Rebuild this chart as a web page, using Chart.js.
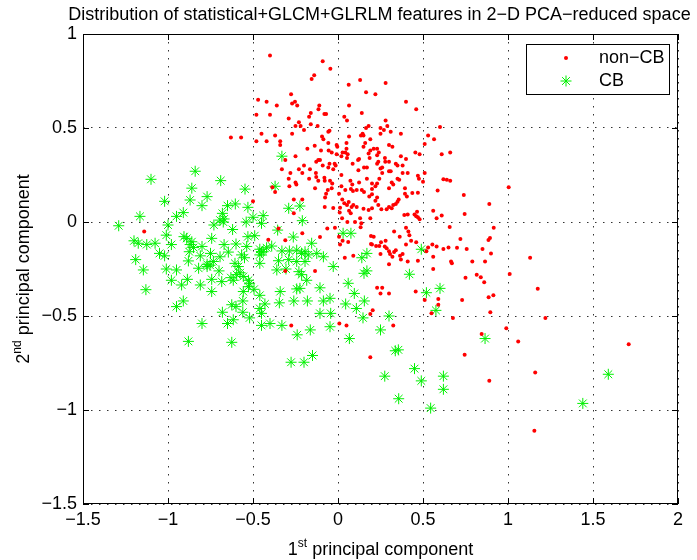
<!DOCTYPE html>
<html>
<head>
<meta charset="utf-8">
<script src="https://cdn.jsdelivr.net/npm/chart.js@4.4.1/dist/chart.umd.min.js"></script>
<style>
  html, body { margin: 0; padding: 0; background: #fff; }
</style>
</head>
<body>
<canvas id="pcaChart" width="697" height="560"></canvas>
<script>
// labels
const chartTitle = 'Distribution of statistical+GLCM+GLRLM features in 2\u2212D PCA\u2212reduced space';
const seriesNames = ['non\u2212CB', 'CB'];

// non-CB points [pc1, pc2]
const nonCbPoints = [
  [-0.40,0.885],[-0.276,0.68],[-0.253,0.64],[-0.27,0.63],[-0.24,0.62],[-0.47,0.65],[-0.42,0.64],[-0.36,0.62],
  [-0.48,0.57],[-0.40,0.57],[-0.29,0.55],[-0.23,0.53],[-0.25,0.51],[-0.63,0.45],[-0.57,0.45],[-0.45,0.47],
  [-0.37,0.46],[-0.27,0.47],[-0.48,0.43],[-0.42,0.43],[-0.34,0.43],[-0.34,0.41],[-0.31,0.33],[-0.25,0.35],
  [-0.33,0.28],[-0.28,0.26],[-0.23,0.28],
  [-0.09,0.855],[-0.045,0.815],[-0.14,0.78],[-0.155,0.76],[0.13,0.755],[0.28,0.74],[0.063,0.73],[0.165,0.69],
  [0.22,0.68],[0.40,0.64],[0.46,0.60],[0.065,0.62],[-0.11,0.62],[-0.115,0.60],[-0.16,0.58],[-0.08,0.575],
  [-0.07,0.575],[0.14,0.58],[-0.17,0.56],[0.037,0.56],[0.053,0.54],[0.28,0.54],[0.18,0.51],[0.165,0.50],
  [-0.22,0.51],[-0.16,0.52],[-0.12,0.51],[-0.20,0.49],[-0.05,0.485],[-0.057,0.48],[0.25,0.50],[0.29,0.51],
  [0.27,0.49],[0.25,0.47],[0.31,0.48],[0.37,0.47],[0.60,0.505],[0.53,0.46],[0.565,0.44],[0.61,0.36],
  [0.66,0.37],[0.51,0.415],[0.455,0.37],[0.48,0.36],[0.145,0.47],[0.15,0.46],[0.135,0.46],[0.065,0.455],
  [-0.094,0.455],[-0.086,0.44],[-0.18,0.39],[-0.137,0.405],[-0.057,0.42],[-0.008,0.41],[-0.004,0.40],[0.05,0.42],
  [0.15,0.40],[0.19,0.44],[0.16,0.42],[0.21,0.39],[0.23,0.39],[0.19,0.38],[0.24,0.37],[0.30,0.41],
  [0.32,0.40],[-0.10,0.38],[-0.055,0.38],[-0.037,0.37],[0.05,0.39],[0.043,0.37],[0.057,0.36],[0.027,0.37],
  [0.02,0.35],[-0.008,0.36],[0.18,0.365],[0.23,0.355],[-0.116,0.33],[-0.128,0.32],[-0.106,0.33],[-0.05,0.31],
  [-0.02,0.31],[0.053,0.34],[0.086,0.31],[0.118,0.33],[0.124,0.335],[0.186,0.34],[0.237,0.32],[0.276,0.34],
  [0.278,0.32],[0.30,0.32],[0.37,0.35],[0.40,0.335],[-0.20,0.30],[-0.165,0.28],[-0.09,0.30],[-0.057,0.29],
  [-0.028,0.28],[-0.014,0.30],[0.12,0.275],[0.153,0.29],[0.17,0.29],[0.23,0.31],[0.25,0.285],[0.26,0.29],
  [0.26,0.26],[0.30,0.27],[0.31,0.27],[0.34,0.31],[0.35,0.30],[0.38,0.30],[0.38,0.26],[0.41,0.26],
  [0.51,0.26],[-0.21,0.26],[-0.13,0.26],
  [-0.25,0.21],[-0.17,0.23],[-0.128,0.24],[-0.116,0.22],[-0.08,0.235],[-0.078,0.22],[-0.047,0.22],[-0.034,0.205],
  [-0.037,0.18],[-0.06,0.17],[-0.07,0.15],[-0.076,0.13],[-0.078,0.08],[-0.028,0.075],[-0.26,0.12],[-0.21,0.12],
  [-0.26,0.046],[-0.135,0.18],[0.02,0.25],[0.02,0.19],[0.043,0.17],[0.076,0.175],[0.084,0.20],[0.073,0.22],
  [0.124,0.21],[0.11,0.17],[0.088,0.165],[0.14,0.17],[0.153,0.16],[0.006,0.15],[0.025,0.12],[0.037,0.10],
  [0.012,0.076],[0.01,0.05],[0.053,0.09],[0.063,0.106],[0.065,0.06],[0.08,0.08],[0.09,0.09],[0.11,0.08],
  [0.075,0.046],[0.024,0.02],[0.055,0.0],[0.10,0.0],[0.137,-0.007],[0.13,0.02],[0.15,0.07],[0.18,0.064],
  [0.20,0.073],[0.19,0.02],[0.237,0.09],[0.22,0.113],[0.23,0.13],[0.20,0.147],[0.184,0.135],[0.20,0.175],
  [0.20,0.205],[0.22,0.19],[0.23,0.205],[0.243,0.23],[0.17,0.23],[0.255,0.068],[0.286,0.068],[0.30,0.08],
  [0.316,0.073],[0.325,0.09],[0.34,0.096],[0.35,0.108],[0.357,0.12],[0.30,0.18],[0.316,0.21],[0.325,0.20],
  [0.35,0.23],[0.36,0.225],[0.394,0.18],[0.394,0.15],[0.405,0.135],[0.437,0.154],[0.47,0.156],[0.476,0.23],
  [0.50,0.214],[0.47,0.246],[0.39,0.037],[0.41,0.04],[0.45,0.04],[0.46,0.03],[0.47,0.025],[0.48,0.014],
  [0.465,0.055],[0.56,0.06],[0.58,0.02],[0.61,0.034],[0.62,0.227],[0.64,0.225],[0.66,0.22],[0.586,0.167],
  [0.74,0.144],[0.745,0.043],[0.89,0.096],[0.657,-0.027],
  [-0.018,-0.03],[-0.063,-0.034],[-0.106,-0.08],[-0.21,-0.06],[-0.135,-0.26],[0.006,-0.078],[0.012,-0.12],[0.027,-0.10],
  [0.06,-0.106],[0.04,-0.19],[0.09,-0.18],[0.133,-0.028],[0.194,-0.074],[0.21,-0.078],[0.194,-0.117],[0.20,-0.12],
  [0.224,-0.128],[0.243,-0.128],[0.253,-0.108],[0.25,-0.17],[0.275,-0.13],[0.28,-0.10],[0.286,-0.14],[0.30,-0.155],
  [0.306,-0.17],[0.33,-0.16],[0.34,-0.15],[0.32,-0.185],[0.365,-0.18],[0.38,-0.17],[0.37,-0.20],[0.30,-0.225],
  [0.33,-0.05],[0.363,-0.078],[0.40,-0.03],[0.414,-0.05],[0.42,-0.07],[0.43,-0.10],[0.40,-0.12],[0.41,-0.21],
  [0.47,-0.206],[0.46,-0.108],[0.52,-0.155],[0.53,-0.136],[0.555,-0.12],[0.58,-0.13],[0.56,-0.185],[0.56,-0.25],
  [0.62,-0.144],[0.65,-0.135],[0.70,-0.137],[0.72,-0.09],[0.665,-0.21],[0.67,-0.22],[0.757,-0.144],[0.79,-0.21],
  [0.85,-0.144],[0.865,-0.21],[0.75,-0.296],[0.816,-0.28],[0.84,-0.294],[0.86,-0.32],[0.886,-0.40],[0.59,-0.41],
  [0.457,-0.37],[0.51,-0.415],[0.73,-0.415],[0.23,-0.35],[0.26,-0.35],[0.25,-0.38],[0.30,-0.38],
  [-0.29,0.23],[-0.286,0.19],[-0.245,0.20],[-0.386,0.185],[-0.37,0.16],[-0.50,0.11],[-0.35,-0.034],[-0.41,-0.094],
  [-0.31,-0.097],[-0.31,-0.26],[-1.14,-0.05],
  [1.004,0.185],[0.916,-0.03],[0.894,-0.085],[0.885,-0.096],[0.90,-0.167],[1.13,-0.19],[1.01,-0.277],[1.175,-0.355],
  [0.914,-0.39],
  [0.896,-0.48],[1.22,-0.51],[0.99,-0.565],[0.845,-0.596],[1.06,-0.635],[1.71,-0.65],[1.16,-0.80],[0.89,-0.845],
  [1.155,-1.11],
  [0.59,-0.44],[0.55,-0.486],[0.676,-0.51],[0.204,-0.47],[0.19,-0.49],[0.008,-0.54],[0.05,-0.55],[0.325,-0.55],
  [-0.275,-0.55],[0.745,-0.706],[0.19,-0.72]
];

// CB points [pc1, pc2]
const cbPoints = [
  [-0.33,0.35],[-0.84,0.27],[-1.10,0.227],
  [-0.69,0.22],[-0.86,0.18],[-0.547,0.175],[-0.37,0.19],[-0.77,0.135],[-0.87,0.117],[-1.02,0.11],[-0.80,0.087],
  [-0.65,0.087],[-0.604,0.096],[-0.53,0.078],[-0.29,0.073],[-0.91,0.05],[-0.95,0.03],[-1.165,0.03],[-0.68,0.046],
  [-0.67,0.016],[-0.675,0.0],[-0.73,-0.016],[-0.50,0.025],[-0.44,0.034],[-0.45,-0.007],[-0.54,0.0],[-0.62,-0.04],
  [-1.00,-0.016],[-1.29,-0.02],[-1.01,-0.07],[-0.906,-0.078],[-0.89,-0.087],[-0.743,-0.087],[-0.53,-0.078],[-0.49,-0.073],
  [-0.355,-0.043],[-0.263,-0.08],[-1.20,-0.10],[-1.175,-0.113],[-1.125,-0.12],[-1.076,-0.113],[-0.98,-0.12],[-0.87,-0.12],
  [-0.85,-0.136],[-0.80,-0.13],[-0.67,-0.12],[-0.60,-0.117],[-0.537,-0.13],[-0.46,-0.145],[-0.44,-0.158],[-0.39,-0.128],
  [-0.33,-0.154],[-0.286,-0.154],[-0.243,-0.15],[-0.875,-0.158],[-0.75,-0.167],[-0.645,-0.16],[-1.05,-0.167],[-1.02,-0.18],
  [-0.81,-0.18],[-0.694,-0.185],[-0.567,-0.175],[-0.55,-0.19],[-0.46,-0.175],[-0.29,-0.20],[-1.19,-0.20],[-0.88,-0.207],
  [-0.733,-0.21],[-0.77,-0.225],[-0.606,-0.22],[-0.46,-0.22],[-0.35,-0.206],[-1.145,-0.255],[-1.01,-0.25],[-0.95,-0.255],
  [-0.82,-0.246],[-0.77,-0.237],[-0.70,-0.26],[-0.586,-0.237],[-0.576,-0.27],[-0.23,-0.264],[-0.36,-0.255],[-0.306,-0.25],
  [-0.98,-0.31],[-0.886,-0.305],[-0.743,-0.305],[-0.684,-0.317],[-0.63,-0.296],[-0.616,-0.31],[-0.52,-0.326],[-0.527,-0.344],
  [-0.92,-0.335],[-0.81,-0.335],[-1.13,-0.36],[-0.743,-0.37],[-0.557,-0.37],[-0.494,-0.358],[-0.34,-0.37],[-0.243,-0.356],
  [-0.46,-0.39],[-0.42,-0.137],[-0.45,-0.16],[-0.86,-0.105],[-0.557,-0.29],[-0.527,-0.31],[-0.596,-0.28],[-0.694,0.01],
  [-0.753,-0.23],
  [-0.224,0.085],[-0.21,0.007],[-0.155,-0.113],[-0.194,-0.158],[-0.214,-0.167],[-0.175,-0.175],[-0.125,-0.167],[-0.086,-0.185],
  [-0.243,-0.21],[-0.194,-0.21],[-0.214,-0.28],[0.03,-0.06],[0.076,-0.06],[-0.028,-0.237],[0.14,-0.19],[0.17,-0.167],
  [0.17,-0.26],[0.153,-0.273],[0.49,-0.145],[0.42,-0.278],[0.06,-0.326],[0.096,-0.38],[-0.184,-0.31],[-0.224,-0.353],
  [-0.106,-0.35],[-0.047,-0.406],[0.52,-0.376],[0.60,-0.353],
  [-0.95,-0.45],[-0.91,-0.42],[-0.80,-0.54],[-0.88,-0.635],[-0.68,-0.48],[-0.625,-0.44],[-0.60,-0.45],[-0.56,-0.42],
  [-0.56,-0.48],[-0.616,-0.52],[-0.65,-0.54],[-0.625,-0.64],[-0.52,-0.51],[-0.46,-0.46],[-0.45,-0.486],[-0.43,-0.436],
  [-0.45,-0.55],[-0.40,-0.54],[-0.345,-0.43],[-0.33,-0.55],
  [-0.26,-0.42],[-0.18,-0.42],[-0.086,-0.42],[0.045,-0.436],[0.108,-0.46],[0.155,-0.42],[-0.106,-0.486],[-0.043,-0.486],
  [0.147,-0.51],[0.30,-0.50],[0.576,-0.47],[-0.047,-0.557],[-0.163,-0.574],[-0.24,-0.60],[0.067,-0.62],[0.25,-0.574],
  [0.337,-0.685],[0.355,-0.68],[-0.15,-0.71],[-0.20,-0.746],[-0.276,-0.746],[0.45,-0.78],[0.275,-0.82],[0.49,-0.845],
  [0.62,-0.82],[0.62,-0.89],[0.357,-0.94],[0.545,-0.99],
  [0.865,-0.62],[1.59,-0.81],[1.44,-0.965]
];

const FONT = "'Liberation Sans', Arial, Helvetica, sans-serif";
const toXY = p => ({ x: p[0], y: p[1] });
const minus = v => String(v).replace('-', '\u2212');

// title centred over the axes, not the canvas
const axesTitle = {
  id: 'axesTitle',
  afterDraw(chart) {
    const { ctx, chartArea: a } = chart;
    ctx.save();
    ctx.fillStyle = '#000';
    ctx.font = '18px ' + FONT;
    ctx.textAlign = 'center';
    ctx.textBaseline = 'middle';
    ctx.fillText(chartTitle, (a.left + a.right) / 2 - 1, 15);
    ctx.restore();
  }
};

// box round the axes with inward ticks, like matlab
const axesBox = {
  id: 'axesBox',
  afterDraw(chart) {
    const { ctx, chartArea: a, scales } = chart;
    ctx.save();
    ctx.strokeStyle = '#000';
    ctx.lineWidth = 1;
    ctx.strokeRect(a.left + 0.5, a.top + 0.5, a.right - a.left - 1, a.bottom - a.top - 1);
    const len = 6;
    ctx.beginPath();
    scales.x.ticks.forEach(t => {
      const px = Math.round(scales.x.getPixelForValue(t.value)) + 0.5;
      ctx.moveTo(px, a.bottom); ctx.lineTo(px, a.bottom - len);
      ctx.moveTo(px, a.top); ctx.lineTo(px, a.top + len);
    });
    scales.y.ticks.forEach(t => {
      const py = Math.round(scales.y.getPixelForValue(t.value)) + 0.5;
      ctx.moveTo(a.left, py); ctx.lineTo(a.left + len, py);
      ctx.moveTo(a.right, py); ctx.lineTo(a.right - len, py);
    });
    ctx.stroke();
    ctx.restore();
  }
};

// axis labels with superscripts
function supText(ctx, parts, x, y) {
  let w = 0;
  parts.forEach(([s, sup]) => {
    ctx.font = (sup ? '12px ' : '18px ') + FONT;
    w += ctx.measureText(s).width;
  });
  let cx = x - w / 2;
  parts.forEach(([s, sup]) => {
    ctx.font = (sup ? '12px ' : '18px ') + FONT;
    ctx.fillText(s, cx, sup ? y - 8 : y);
    cx += ctx.measureText(s).width;
  });
}

const axisLabels = {
  id: 'axisLabels',
  afterDraw(chart) {
    const { ctx, chartArea: a } = chart;
    ctx.save();
    ctx.fillStyle = '#000';
    ctx.textBaseline = 'alphabetic';
    ctx.textAlign = 'left';
    supText(ctx, [['1', false], ['st', true], [' principal component', false]], (a.left + a.right) / 2, 555);
    ctx.translate(29, (a.top + a.bottom) / 2);
    ctx.rotate(-Math.PI / 2);
    supText(ctx, [['2', false], ['nd', true], [' principal component', false]], 0, 0);
    ctx.restore();
  }
};

// legend box in the top right corner
const legendBox = {
  id: 'legendBox',
  afterDraw(chart) {
    const { ctx, chartArea: a } = chart;
    const x0 = a.right - 152, y0 = a.top + 10, w = 143, h = 50;
    ctx.save();
    ctx.fillStyle = '#fff';
    ctx.fillRect(x0, y0, w, h);
    ctx.strokeStyle = '#000';
    ctx.lineWidth = 1;
    ctx.strokeRect(x0 + 0.5, y0 + 0.5, w, h);
    const mx = x0 + 40;
    ctx.fillStyle = '#ff0000';
    ctx.beginPath();
    ctx.arc(mx, y0 + 14, 2, 0, Math.PI * 2);
    ctx.fill();
    ctx.strokeStyle = '#00f000';
    ctx.beginPath();
    const r = 5.5, sy = y0 + 37, d = r * Math.SQRT1_2;
    ctx.moveTo(mx - r, sy); ctx.lineTo(mx + r, sy);
    ctx.moveTo(mx, sy - r); ctx.lineTo(mx, sy + r);
    ctx.moveTo(mx - d, sy - d); ctx.lineTo(mx + d, sy + d);
    ctx.moveTo(mx - d, sy + d); ctx.lineTo(mx + d, sy - d);
    ctx.stroke();
    ctx.fillStyle = '#000';
    ctx.font = '18px ' + FONT;
    ctx.textBaseline = 'middle';
    ctx.fillText(seriesNames[0], x0 + 73, y0 + 14);
    ctx.fillText(seriesNames[1], x0 + 73, y0 + 37);
    ctx.restore();
  }
};

new Chart(document.getElementById('pcaChart'), {
  type: 'scatter',
  data: {
    datasets: [
      {
        label: seriesNames[0],
        data: nonCbPoints.map(toXY),
        pointStyle: 'circle',
        pointRadius: 2,
        pointBackgroundColor: '#ff0000',
        pointBorderWidth: 0
      },
      {
        label: seriesNames[1],
        data: cbPoints.map(toXY),
        pointStyle: 'star',
        pointRadius: 5.5,
        pointBorderColor: '#00f000',
        pointBackgroundColor: 'rgba(0,0,0,0)',
        pointBorderWidth: 1
      }
    ]
  },
  options: {
    responsive: false,
    animation: false,
    devicePixelRatio: 1,
    layout: { padding: { left: 0, right: 19, top: 34, bottom: 0 } },
    plugins: {
      legend: { display: false },
      tooltip: { enabled: false },
      title: { display: false }
    },
    scales: {
      x: {
        type: 'linear',
        min: -1.5, max: 2,
        afterFit: s => { s.height = 56; },
        ticks: { stepSize: 0.5, padding: 5, color: '#000', font: { family: FONT, size: 18 }, callback: minus, maxRotation: 0 },
        grid: { color: '#333', lineWidth: 1, drawTicks: false },
        border: { display: false, dash: [1.5, 6.5] }
      },
      y: {
        type: 'linear',
        min: -1.5, max: 1,
        afterFit: s => { s.width = 83; },
        ticks: { stepSize: 0.5, padding: 6, color: '#000', font: { family: FONT, size: 18 }, callback: minus },
        grid: { color: '#333', lineWidth: 1, drawTicks: false },
        border: { display: false, dash: [1.5, 6.5] }
      }
    }
  },
  plugins: [axesTitle, axesBox, axisLabels, legendBox]
});
</script>
</body>
</html>
